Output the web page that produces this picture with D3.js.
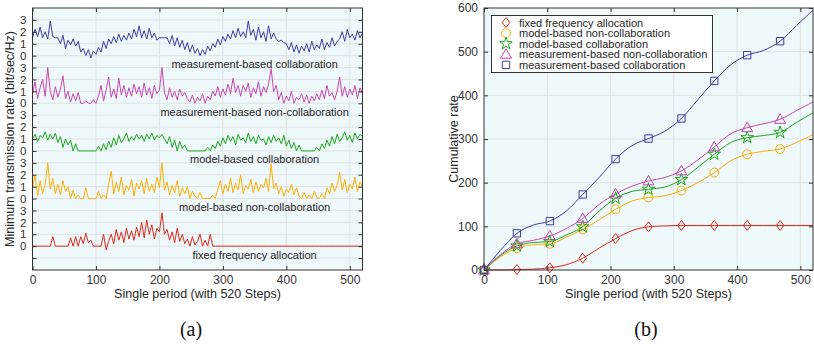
<!DOCTYPE html>
<html><head><meta charset="utf-8">
<script src="https://cdn.jsdelivr.net/npm/d3@7"></script>
<style>body{margin:0;background:#fff}svg{display:block}</style>
</head><body><svg id="c" width="814" height="346" font-family="Liberation Sans, Arial, sans-serif"></svg>
<script>
// ---------- Panel (a) data : sampled every 4 steps (0..520) ----------
const stepsA = d3.range(0, 521, 4);
const measCollab = [1.5,2.2,1.6,2.4,1.5, 2.0,1.4,2.9,1.6, 1.5,1.5, 1.0,1.7,0.6,1.3, 0.9,1.4,0.8,1.2,
  0.3,0.6,0.0,0.5,-0.2,0.4,0.1, 0.7,0.3,1.2,0.6,1.4, 1.0,1.6,1.1,1.8,1.2,1.7,1.3,1.9,
  1.4,2.2,1.6,2.5,1.5,2.1, 1.4,2.3,1.5,1.9,1.3, 1.5,1.5,1.5,1.5, 1.0,1.7,0.8,1.5,0.7,1.3,
  0.5,1.1,0.3,0.9,0.2,0.6,0.0,0.5,0.1,0.8,0.4,1.0, 0.7,1.4,0.9,1.6,1.2,
  1.8,1.4,2.1,1.5,2.3,1.6,2.0,1.5,2.9,1.7,2.2, 1.3,2.4,1.5,2.0,1.2,2.5,1.4,1.9,
  1.4,1.2,1.3,1.1,1.0, 0.5,1.1,0.3,0.9,0.2,0.8,0.4,1.0,0.3,1.2,0.5,0.9,0.6,1.4,0.5,1.1,0.7,1.5,0.8,1.2,
  1.4,2.0,1.2,2.2,1.5,1.8,1.3,2.1,1.5,1.9];
const measNonCollab = [0.8,1.8,0.4,1.3,2.0,0.6, 3.0,1.0, 0.3,1.4,0.5,1.2, 2.3, 0.4,1.0,0.1,0.8,0.2,0.9,0.0,
  0.0,0.2,0.0,0.0,0.3,0.0, 0.6,1.5,0.2,1.1,2.2,0.5, 1.2,0.4,2.1,0.7,1.5,0.5,1.3,0.6,1.6,0.8,1.4,0.5,
  1.7,0.7,1.3,0.4,1.5,0.8,1.1, 3.0, 0.9,0.3,1.3,0.5,1.0,0.3,1.2,0.6,0.9,0.4,
  0.1,0.7,0.0,0.5,0.2,0.8,0.0,0.6,0.3,1.0,
  0.6,1.4,0.5,1.2,0.7,1.6,0.8,2.1,0.9,1.5,0.6,1.5,1.0,1.7,0.5,1.3,0.8,1.8,0.6,1.4,0.9,1.6,
  2.9, 1.0,1.5, 0.3,0.9,0.0,0.6,0.2,1.0,0.0,0.5,0.3,0.8,0.1,0.7,0.0,0.6,0.2,
  0.8,0.3,1.1,0.4,1.5,0.6,0.9,0.3, 1.0, 2.2, 0.6,1.4,0.5,1.2,0.7,1.5,0.4,1.3,0.8];
const modelCollab = [1.0,1.4,0.8,1.3,1.1,1.6,0.9,1.4,1.0,1.5, 0.7,1.2,0.3,1.0,0.5,0.9,0.0,0.6,
  0,0,0,0,0,0,0,0, 0.4,0.0,0.6,0.1,
  0.8,0.3,1.1,0.5,1.3,0.7,1.0,1.5,0.8,1.2,0.9,1.4,1.0,1.3,0.8, 1.4,1.0,1.5,0.9,1.3,1.1,1.4,1.0,
  0.6,1.2,0.3,0.9,0.0,0.8,0.2,0.5, 0,0,0,0,0,0,0,0, 0.3,0.0,0.5,0.2,
  0.8,0.4,1.1,0.6,1.3,0.8,1.2,0.5,1.4,0.9,1.1,0.7,1.5,0.8,1.2,0.6,1.3,0.9,1.0,0.5,1.2,0.7,1.3,0.8,1.1,0.6,1.3,
  0.4,0.9,0.2,0.7,0.0,0.5, 0,0,0,0,0,0, 0.3,0.0,0.6,0.2,
  0.9,0.4,1.2,0.6,1.4,0.8,1.1,1.6,0.9,1.3,0.7,1.5,1.0,1.4,1.2];
const modelNonCollab = [0.9,2.0,0.2,1.5,0.4,1.2, 3.0, 0.8,1.7,0.4,1.2,0.3,1.5,0.6,1.0, 0.0,0.7,0.0,0.3,0.0,
  0.0,0.9,0.0,0.0,0.0,0.0,0.6,0.0, 0.3,0.0,
  1.2,2.3,0.4,1.4,0.6,1.8,0.3,1.1,0.7,1.6,0.2,1.3,0.8,1.5,0.4,1.7,0.6,1.2,0.5,1.8,0.9, 3.0,
  0.7,1.4,0.3,1.1,0.5,1.5,0.2,0.9,0.4,1.0, 0.0,0.6,0.2,0.0,0.5,0.0,0.0,0.0,0.0,0.3,0.0,
  0.8,1.5,0.4,1.2,0.6,1.7,0.5,1.3,0.7,2.0,0.4,1.1,0.8,1.6,0.5,1.4,0.6,1.2,0.9,1.7,0.6, 2.9,
  0.8,1.3,0.4,1.0,0.2,0.8,0.5,1.2,0.3,0.9,0.2, 0.0,0.5,0.0,0.3,0.0,0.6,0.1,0.0,0.4,0.0,
  0.9,0.4,1.3,0.6,1.1, 2.2, 0.7,1.6,0.5,1.2,0.8,1.8,0.6,1.4,1.0];
const fixedAlloc = [0,0,0,0,0,0,0,0, 0.8, 0,0,0,0,0,0, 0.7,0,0.8,0,0.8,0.2,1.1,0.3,0.5, 0,0,0,0, 1.0,-0.3,
  0.4,1.0,0.2,1.4,0.5,1.2,0.3,1.5,0.6,1.3, 0.5,1.6,0.8,2.0,0.7,2.2,1.0,1.8,0.6,1.5,1.2,2.8,1.0,
  1.4,0.5,1.2,0.3,1.5,0.4,1.0,0.2, 0.6,0.0,0.8,0.1,0.4,1.0,0.0,0.5,0.0,1.0,
  0,0,0,0,0,0,0,0,0,0, 0,0,0,0,0,0,0,0,0,0, 0,0,0,0,0,0,0,0,0,0,
  0,0,0,0,0,0,0,0,0,0, 0,0,0,0,0,0,0,0,0,0, 0,0,0,0,0,0,0,0,0,0];
const groupOffsets = [16, 12, 8, 4, 0];
const namesA = ["measurement-based collaboration","measurement-based non-collaboration",
  "model-based collaboration","model-based non-collaboration","fixed frequency allocation"];
const tickLabelsA = ["0","1","2","3"];

// ---------- Panel (b) data ----------
const stepsB = [0,26,52,78,104,130,156,182,208,234,260,286,312,338,364,390,416,442,468,494,520];
const cumFixed = [0,0,1,2,5,12,27,50,72,90,99,101,102,102,102,102,102,102,102,102,102];
const cumModelNon = [0,30,50,58,60,75,93,115,139,158,166,170,182,200,223,250,265,272,277,292,310];
const cumModelCol = [0,33,55,63,65,80,99,135,164,180,185,190,207,235,265,292,303,308,315,338,360];
const cumMeasNon = [0,35,60,68,78,95,118,150,174,192,204,212,227,252,282,312,326,335,345,365,385];
const cumMeasCol = [0,45,84,103,112,135,173,212,254,285,301,318,347,390,433,470,492,503,524,560,595];
const namesB = ["fixed frequency allocation","model-based non-collaboration","model-based collaboration",
  "measurement-based non-collaboration","measurement-based collaboration"];

const colors = {blue:"#3b3fa6", mag:"#c946b2", green:"#1aa81a", orange:"#ffb000", red:"#de2a1c"};
const colorsA = [colors.blue, colors.mag, colors.green, colors.orange, colors.red];
const seriesA = [measCollab, measNonCollab, modelCollab, modelNonCollab, fixedAlloc];
const seriesB = [cumFixed, cumModelNon, cumModelCol, cumMeasNon, cumMeasCol];
const colorsB = [colors.red, colors.orange, colors.green, colors.mag, colors.blue];
const markersB = ["diamond","circle","star","triangle","square"];

const svg = d3.select("#c");
const axisColor = "#333", bg = "#eff8fa", gridC = "#dfe3e6";

function frame(x, y){
  const [x0,x1] = x.range(), [y1,y0] = y.range();
  const g = svg.append("g");
  g.append("rect").attr("x",x0).attr("y",y0).attr("width",x1-x0).attr("height",y1-y0).attr("fill",bg);
  return g;
}
function drawMarker(g, type, cx, cy, col){
  if(type==="diamond"){
    g.append("path").attr("d",`M${cx},${cy-5}L${cx+3.8},${cy}L${cx},${cy+5}L${cx-3.8},${cy}Z`)
      .attr("fill","none").attr("stroke",col).attr("stroke-width",1);
  } else {
    const m = {circle:[d3.symbolCircle,62], star:[d3.symbolStar,48], triangle:[d3.symbolTriangle,52], square:[d3.symbolSquare,54]}[type];
    g.append("path").attr("d",d3.symbol(m[0],m[1])()).attr("transform",`translate(${cx},${cy+(type==="triangle"?0.8:0)})`)
      .attr("fill","none").attr("stroke",col).attr("stroke-width",1);
  }
}

// ================= Panel (a) =================
const xA = d3.scaleLinear([0,520],[32.5,362.5]);
const yA = d3.scaleLinear([-2,20],[270,8]);
const gA = frame(xA, yA);
const yTicksA = d3.range(-1,20);
gA.selectAll(".hg").data(yTicksA).join("line").attr("x1",xA(0)).attr("x2",xA(520))
  .attr("y1",d=>yA(d)).attr("y2",d=>yA(d)).attr("stroke",gridC).attr("stroke-width",1);
gA.selectAll(".vg").data([100,200,300,400,500]).join("line").attr("y1",yA(-2)).attr("y2",yA(20))
  .attr("x1",d=>xA(d)).attr("x2",d=>xA(d)).attr("stroke",gridC).attr("stroke-width",1);

svg.append("clipPath").attr("id","clipA").append("rect")
  .attr("x",xA(0)).attr("y",yA(20)).attr("width",xA(520)-xA(0)).attr("height",yA(-2)-yA(20));
seriesA.forEach((s,k)=>{
  const line = d3.line().x((d,i)=>xA(stepsA[i])).y(d=>yA(groupOffsets[k]+d));
  svg.append("path").datum(s).attr("d",line).attr("fill","none").attr("stroke",colorsA[k])
    .attr("stroke-width",1).attr("stroke-linejoin","round").attr("clip-path","url(#clipA)");
  svg.append("text").attr("x",xA(350)).attr("y",yA(groupOffsets[k]-1)+0.5).attr("text-anchor","middle")
    .attr("font-size",11).attr("fill","#262626").text(namesA[k]);
});

function axes(x, y, xt, yt, yfmt, yfs){
  const [x0,x1] = x.range(), [y1,y0] = y.range();
  const b = svg.append("g").attr("transform",`translate(0,${y1})`)
    .call(d3.axisBottom(x).tickValues(xt).tickSize(-4).tickPadding(5));
  const t = svg.append("g").attr("transform",`translate(0,${y0})`)
    .call(d3.axisTop(x).tickValues(xt).tickSize(-4).tickFormat(""));
  const l = svg.append("g").attr("transform",`translate(${x0},0)`)
    .call(d3.axisLeft(y).tickValues(yt).tickSize(-4).tickPadding(6).tickFormat(yfmt));
  const r = svg.append("g").attr("transform",`translate(${x1},0)`)
    .call(d3.axisRight(y).tickValues(yt).tickSize(-4).tickFormat(""));
  [b,t,l,r].forEach(g=>{
    g.select(".domain").remove();
    g.attr("font-family",null).attr("font-size",null);
    g.selectAll("line").attr("stroke",axisColor);
    g.selectAll("text").attr("fill","#333").attr("font-size",12);
  });
  l.selectAll("text").attr("font-size",yfs);
  svg.append("rect").attr("x",x0).attr("y",y0).attr("width",x1-x0).attr("height",y1-y0)
    .attr("fill","none").attr("stroke",axisColor).attr("stroke-width",1);
}
axes(xA, yA, [0,100,200,300,400,500], yTicksA, d=> d<0 ? "" : tickLabelsA[d%4], 11.5);
svg.append("text").attr("x",xA(260)).attr("y",298).attr("text-anchor","middle").attr("font-size",12.5)
  .attr("fill","#262626").text("Single period (with 520 Steps)");
svg.append("text").attr("transform",`translate(14,${(yA(20)+yA(-2))/2}) rotate(-90)`).attr("text-anchor","middle")
  .attr("font-size",12.5).attr("fill","#262626").text("Minimum transmission rate (bit/sec/Hz)");

// ================= Panel (b) =================
const xB = d3.scaleLinear([0,520],[484,813]);
const yB = d3.scaleLinear([0,600],[270,8]);
const gB = frame(xB, yB);
const yTicksB = [0,100,200,300,400,500,600];
gB.selectAll(".hg").data([100,200,300,400,500]).join("line").attr("x1",xB(0)).attr("x2",xB(520))
  .attr("y1",d=>yB(d)).attr("y2",d=>yB(d)).attr("stroke",gridC);
gB.selectAll(".vg").data([100,200,300,400,500]).join("line").attr("y1",yB(0)).attr("y2",yB(600))
  .attr("x1",d=>xB(d)).attr("x2",d=>xB(d)).attr("stroke",gridC);
const gL = svg.append("g");
seriesB.forEach((s,k)=>{
  const line = d3.line().x((d,i)=>xB(stepsB[i])).y(d=>yB(d)).curve(d3.curveMonotoneX);
  gL.append("path").datum(s).attr("d",line).attr("fill","none").attr("stroke",colorsB[k]).attr("stroke-width",1);
});
seriesB.forEach((s,k)=>{
  s.forEach((v,i)=>{ if(i%2===0 && i<20) drawMarker(gL, markersB[k], xB(stepsB[i]), yB(v), colorsB[k]); });
});
axes(xB, yB, [0,100,200,300,400,500], yTicksB, d=>d, 12);
svg.append("text").attr("x",(xB(0)+xB(520))/2).attr("y",298).attr("text-anchor","middle").attr("font-size",12.5)
  .attr("fill","#262626").text("Single period (with 520 Steps)");
svg.append("text").attr("transform",`translate(458,${(yB(0)+yB(600))/2}) rotate(-90)`).attr("text-anchor","middle")
  .attr("font-size",12.5).attr("fill","#262626").text("Cumulative rate");

// legend
const lg = svg.append("g");
lg.append("rect").attr("x",491.5).attr("y",15.5).attr("width",221).attr("height",57)
  .attr("fill","#fff").attr("stroke","#333").attr("stroke-width",1);
namesB.forEach((n,k)=>{
  const cy = 22.5 + k*10.6;
  drawMarker(lg, markersB[k], 506, cy, colorsB[k]);
  lg.append("text").attr("x",519).attr("y",cy+4).attr("font-size",11).attr("fill","#262626").text(n);
});

// captions
svg.append("text").attr("x",191).attr("y",336).attr("text-anchor","middle").attr("font-size",20)
  .attr("font-family","Liberation Serif, DejaVu Serif, serif").attr("fill","#111").text("(a)");
svg.append("text").attr("x",646).attr("y",336).attr("text-anchor","middle").attr("font-size",20)
  .attr("font-family","Liberation Serif, DejaVu Serif, serif").attr("fill","#111").text("(b)");
</script></body></html>
